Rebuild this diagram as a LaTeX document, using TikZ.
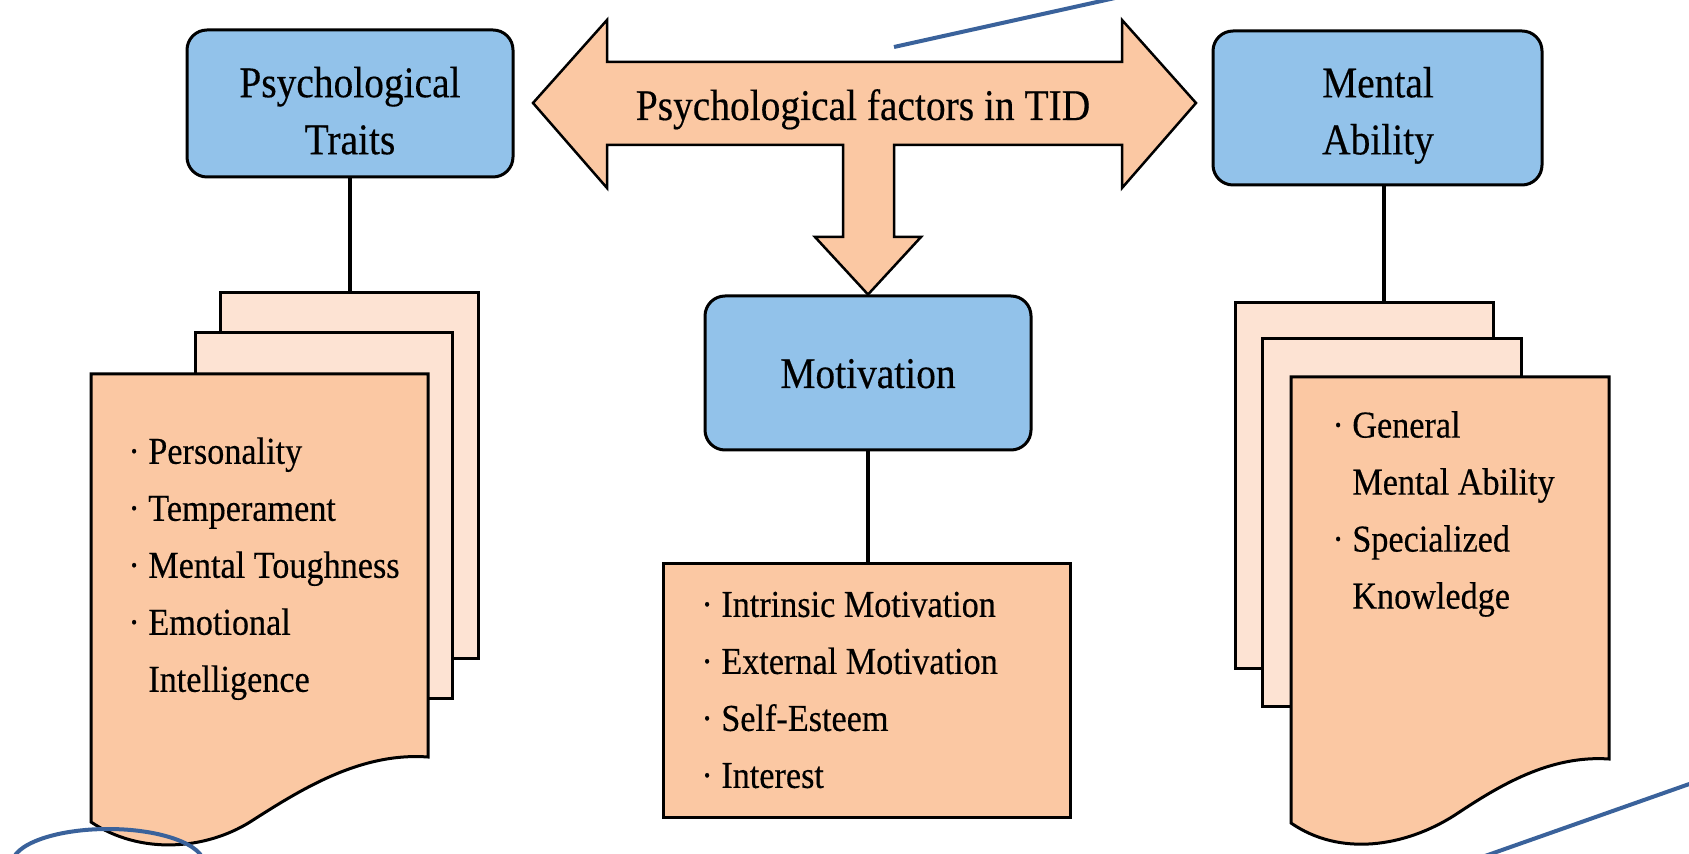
\documentclass[tikz,border=0pt]{standalone}
\usepackage{fontspec}
\setmainfont{Liberation Serif}[FakeStretch=0.9,FakeBold=0.35]
\definecolor{boxblue}{RGB}{146,194,234}
\definecolor{peach}{RGB}{251,200,163}
\definecolor{lightpeach}{RGB}{253,227,211}
\definecolor{decoblue}{RGB}{58,98,155}
\tikzset{
 headbox/.style={draw=black, line width=1.5pt, fill=boxblue, rounded corners=10pt, inner sep=0pt},
 pagebox/.style={draw=black, line width=1.5pt, fill=lightpeach, inner sep=0pt},
 listbox/.style={draw=black, line width=1.5pt, fill=peach, inner sep=0pt},
 wavedoc/.style={draw=black, line width=1.5pt, fill=peach},
 titletext/.style={inner sep=0pt, align=center, font=\fontsize{21.9}{28.5}\selectfont},
 listtext/.style={inner sep=0pt, align=left, font=\fontsize{19}{28.5}\selectfont},
 link/.style={line width=2pt},
 bigarrow/.style={draw=black, line width=1.25pt, fill=peach, line join=miter},
 deco/.style={draw=decoblue, line width=2pt}
}
\begin{document}
\begin{tikzpicture}[x=0.5pt,y=-0.5pt]
\path[use as bounding box, fill=white] (0,0) rectangle (1689,854);
\begin{scope}
\clip (0,0) rectangle (1689,854);
% head boxes
\node[headbox, minimum width=163pt, minimum height=73.5pt] (pt) at (350,103.5) {};
\node[headbox, minimum width=164.5pt, minimum height=77pt] (ma) at (1377.5,108) {};
\node[headbox, minimum width=163pt, minimum height=77pt] (mot) at (868,373) {};
\node[titletext] (ptt) at (350,110.7) {Psychological\\Traits};
\node[titletext] (mat) at (1378,115.4) {Mental\\Ability};
\node[titletext, anchor=base] (mott) at (868,388) {Motivation};
% big arrow
\draw[bigarrow] (533,103) -- (607,20) -- (607,62) -- (1122,62) -- (1122,20) -- (1196,103)
  -- (1122,188) -- (1122,145) -- (894,145) -- (894,237) -- (921,237) -- (mot.north)
  -- (815,237) -- (843,237) -- (843,145) -- (607,145) -- (607,188) -- cycle;
\node[titletext, anchor=base] (arrt) at (863,120) {Psychological factors in TID};
% left stack
\node[pagebox, minimum width=129pt, minimum height=182.5pt] (ptd3) at (349,475.5) {};
\node[pagebox, minimum width=128.5pt, minimum height=182.5pt] (ptd2) at (323.5,515.5) {};
\draw[wavedoc] (91,374) -- (428,374) -- (428,757) .. controls (360,752) and (300,790) .. (250,822)
  .. controls (205,850) and (140,855) .. (91,822) -- cycle;
\node[listtext, anchor=west] (ptl) at (128,568.7)
  {· Personality\\· Temperament\\· Mental Toughness\\· Emotional\\\hphantom{· }Intelligence};
\draw[link] (pt.south) -- (pt.south |- ptd3.north);
% right stack
\node[pagebox, minimum width=129pt, minimum height=182.5pt] (mad3) at (1364,485.5) {};
\node[pagebox, minimum width=129.5pt, minimum height=183.5pt] (mad2) at (1391.5,522.5) {};
\draw[wavedoc] (1291,377) -- (1609,377) -- (1609,759) .. controls (1550,755) and (1500,785) .. (1455,815)
  .. controls (1405,847) and (1340,857) .. (1291,823) -- cycle;
\node[listtext, anchor=west] (mal) at (1332,514)
  {· General\\\hphantom{· }Mental Ability\\· Specialized\\\hphantom{· }Knowledge};
\draw[link] ([xshift=3pt]ma.south) -- ([xshift=3pt]ma.south |- mad3.north);
% middle list
\node[listbox, minimum width=203.5pt, minimum height=127pt] (motl) at (866.5,690) {};
\node[listtext, anchor=west] (motlt) at (701,690)
  {· Intrinsic Motivation\\· External Motivation\\· Self-Esteem\\· Interest};
\draw[link] (mot.south) -- (mot.south |- motl.north);
% decorative strokes
\draw[deco] (894,47) -- (1115,-2);
\draw[deco] (108,864) ellipse [x radius=48pt, y radius=17.5pt];
\draw[deco] (1485,856) -- (1695,782);
\end{scope}
\end{tikzpicture}
\end{document}
